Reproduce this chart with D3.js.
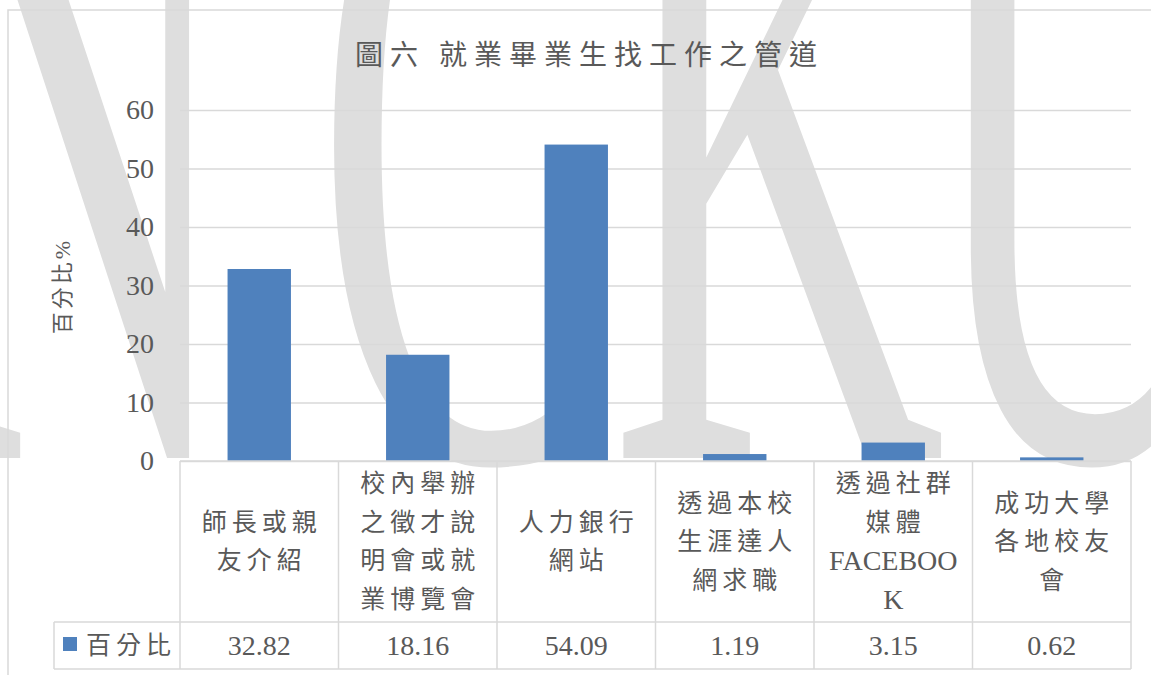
<!DOCTYPE html>
<html>
<head>
<meta charset="utf-8">
<script src="https://cdn.jsdelivr.net/npm/d3@7"></script>
<style>
  body { margin: 0; background: #fff; }
  svg { display: block; }
</style>
</head>
<body>
<svg id="chart" width="1151" height="675"></svg>
<script>
// data
var title = "圖六 就業畢業生找工作之管道";
var yLabel = "百分比%";
var seriesName = "百分比";
var categories = [
  ["師長或親", "友介紹"],
  ["校內舉辦", "之徵才說", "明會或就", "業博覽會"],
  ["人力銀行", "網站"],
  ["透過本校", "生涯達人", "網求職"],
  ["透過社群", "媒體", "FACEBOO", "K"],
  ["成功大學", "各地校友", "會"]
];
var values = [32.82, 18.16, 54.09, 1.19, 3.15, 0.62];
var valueLabels = ["32.82", "18.16", "54.09", "1.19", "3.15", "0.62"];
var yTicks = [0, 10, 20, 30, 40, 50, 60];
var watermark = ["N", "C", "K", "U"];

var svg = d3.select("#chart");
var plotLeft = 180, plotRight = 1131, plotTop = 110, plotBottom = 461;
var grey = "#d9d9d9", textCol = "#595959", barCol = "#4f81bd";
var cjk = "'Liberation Serif', 'Noto Sans CJK TC', serif";

// watermark letters in the background (layout offsets)
var wmPos = [-97, 315, 610, 922];
svg.selectAll("text.wm")
    .data(watermark)
    .enter()
    .append("text")
    .attr("class", "wm")
    .attr("transform", function(d, i) {
        return "translate(" + wmPos[i] + ",458) scale(1,2.1)";
    })
    .style("font-family", "'Liberation Serif', serif")
    .style("font-size", "465px")
    .style("fill", "#dedede")
    .text(function(d) { return d; });

// outer chart border
svg.append("rect")
    .attr("x", 8).attr("y", 10)
    .attr("width", 1200).attr("height", 700)
    .attr("fill", "none")
    .attr("stroke", grey)
    .attr("stroke-width", 1.5);

var x = d3.scaleBand()
    .domain(d3.range(values.length))
    .range([plotLeft, plotRight])
    .paddingInner(0.6)
    .paddingOuter(0.3);

var y = d3.scaleLinear()
    .domain([0, 60])
    .range([plotBottom, plotTop]);

// y axis + gridlines
var yAxis = svg.append("g")
    .attr("transform", "translate(" + plotLeft + ",0)")
    .call(d3.axisLeft(y)
        .tickValues(yTicks)
        .tickSize(-(plotRight - plotLeft))
        .tickPadding(26));
yAxis.attr("font-family", "'Liberation Serif', serif");
yAxis.select(".domain").remove();
yAxis.selectAll(".tick line")
    .attr("stroke", grey)
    .attr("stroke-width", 1.5);
yAxis.selectAll(".tick text")
    .style("font-family", "'Liberation Serif', serif")
    .style("font-size", "28px")
    .attr("fill", textCol);

// bars
svg.selectAll("rect.bar")
    .data(values)
    .enter()
    .append("rect")
    .attr("class", "bar")
    .attr("x", function(d, i) { return x(i); })
    .attr("y", function(d) { return y(d); })
    .attr("width", x.bandwidth())
    .attr("height", function(d) { return y(0) - y(d); })
    .attr("fill", barCol);

// title
svg.append("text")
    .attr("x", 586 + 3.5)
    .attr("y", 55)
    .attr("text-anchor", "middle")
    .attr("dominant-baseline", "central")
    .style("font-family", cjk)
    .style("font-size", "28px")
    .style("letter-spacing", "7px")
    .attr("fill", textCol)
    .text(title);

// y label
svg.append("text")
    .attr("transform", "translate(62,286) rotate(-90)")
    .attr("text-anchor", "middle")
    .attr("dominant-baseline", "central")
    .style("font-family", cjk)
    .style("font-size", "22px")
    .style("letter-spacing", "3px")
    .attr("fill", textCol)
    .text(yLabel);

// data table
var step = x.step();
var rowTop = plotBottom, rowMid = 622, rowBot = 669, legLeft = 54;
var table = svg.append("g")
    .attr("stroke", grey)
    .attr("stroke-width", 1.5);
table.append("line").attr("x1", plotLeft).attr("x2", plotRight).attr("y1", rowTop).attr("y2", rowTop);
table.append("line").attr("x1", legLeft).attr("x2", plotRight).attr("y1", rowMid).attr("y2", rowMid);
table.append("line").attr("x1", legLeft).attr("x2", plotRight).attr("y1", rowBot).attr("y2", rowBot);
table.append("line").attr("x1", legLeft).attr("x2", legLeft).attr("y1", rowMid).attr("y2", rowBot);
table.selectAll("line.v")
    .data(d3.range(values.length + 1))
    .enter()
    .append("line")
    .attr("class", "v")
    .attr("x1", function(i) { return plotLeft + i * step; })
    .attr("x2", function(i) { return plotLeft + i * step; })
    .attr("y1", rowTop)
    .attr("y2", rowBot);

// category labels
var lineH = 38.5;
var isLatin = function(s) { return /^[A-Z]+$/.test(s); };
var cells = svg.selectAll("g.cat")
    .data(categories)
    .enter()
    .append("g")
    .attr("class", "cat")
    .attr("transform", function(d, i) {
        return "translate(" + (plotLeft + (i + 0.5) * step) + "," + ((rowTop + rowMid) / 2) + ")";
    });
cells.each(function(lines) {
    var n = lines.length;
    d3.select(this).selectAll("text")
        .data(lines)
        .enter()
        .append("text")
        .attr("y", function(d, j) { return (j - (n - 1) / 2) * lineH; })
        .attr("dx", function(d) { return isLatin(d) ? 0 : 2.5; })
        .attr("text-anchor", "middle")
        .attr("dominant-baseline", "central")
        .style("font-family", cjk)
        .style("font-size", function(d) { return isLatin(d) ? "28px" : "25px"; })
        .style("letter-spacing", function(d) { return isLatin(d) ? "0px" : "5px"; })
        .attr("fill", textCol)
        .text(function(d) { return d; });
});

// value row
svg.selectAll("text.val")
    .data(valueLabels)
    .enter()
    .append("text")
    .attr("class", "val")
    .attr("x", function(d, i) { return plotLeft + (i + 0.5) * step; })
    .attr("y", (rowMid + rowBot) / 2)
    .attr("text-anchor", "middle")
    .attr("dominant-baseline", "central")
    .style("font-family", "'Liberation Serif', serif")
    .style("font-size", "28px")
    .attr("fill", textCol)
    .text(function(d) { return d; });

// legend key in the table
svg.append("rect")
    .attr("x", 63).attr("y", 637)
    .attr("width", 14).attr("height", 14)
    .attr("fill", barCol);
svg.append("text")
    .attr("x", 86)
    .attr("y", (rowMid + rowBot) / 2)
    .attr("dominant-baseline", "central")
    .style("font-family", cjk)
    .style("font-size", "25px")
    .style("letter-spacing", "5px")
    .attr("fill", textCol)
    .text(seriesName);
</script>
</body>
</html>
